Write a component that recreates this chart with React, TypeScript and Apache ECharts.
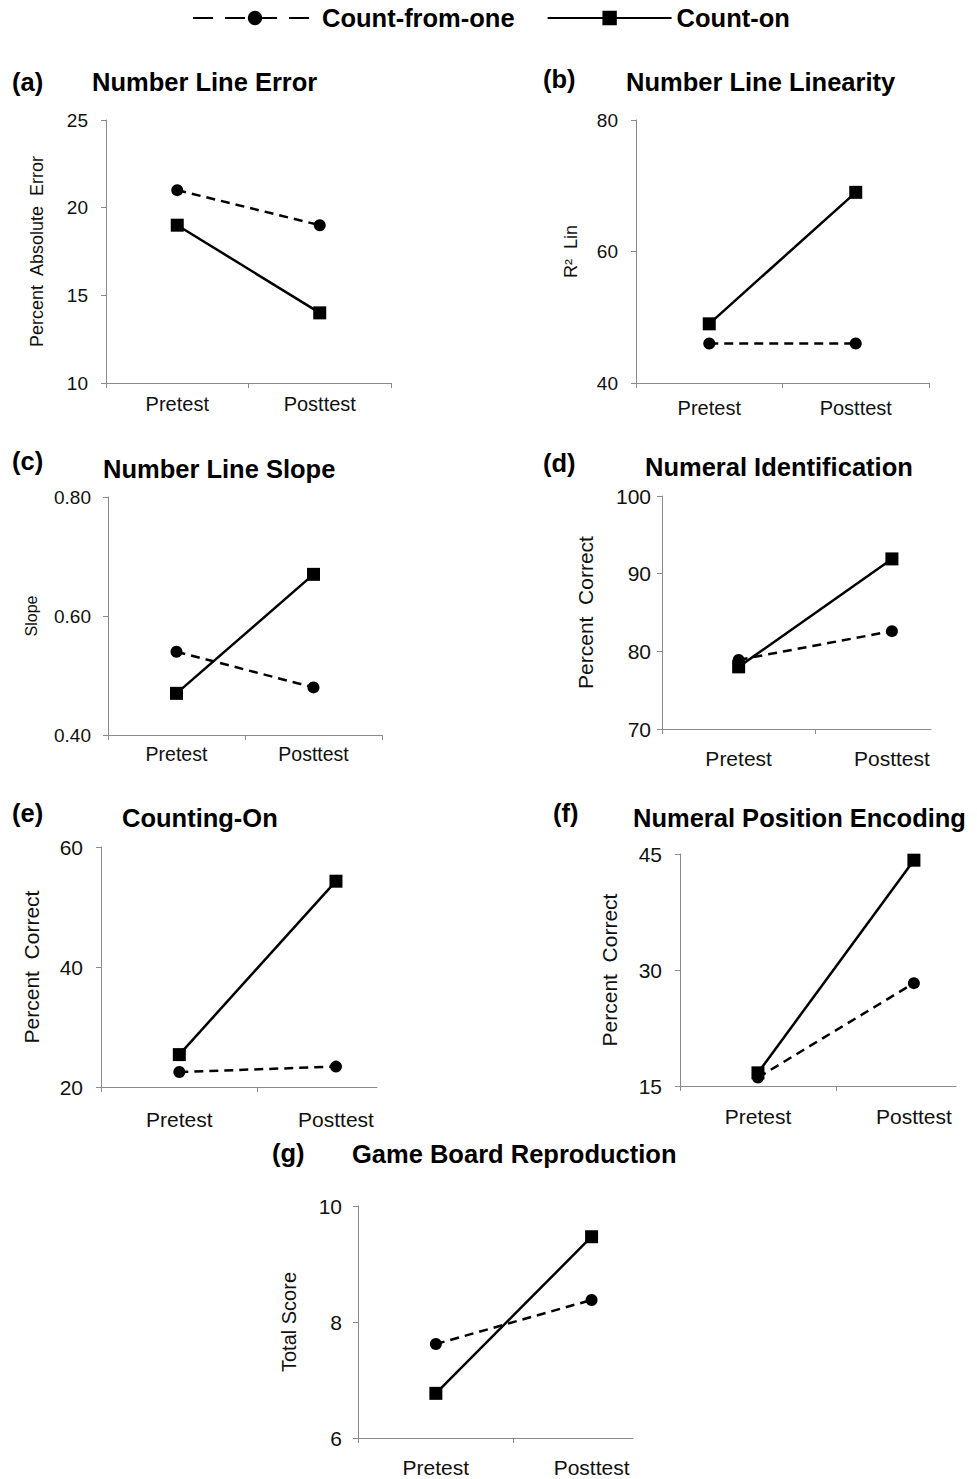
import React, { useEffect, useRef } from "react";
import * as echarts from "echarts";

// ---------- data ----------
const categories = ["Pretest", "Posttest"];
const seriesNames = ["Count-from-one", "Count-on"];

// (a) Number Line Error
const errorFromOne = [21, 19];
const errorCountOn = [19, 14];
const errorTicks = [10, 15, 20, 25];
// (b) Number Line Linearity
const linearityFromOne = [46, 46];
const linearityCountOn = [49, 69];
const linearityTicks = [40, 60, 80];
// (c) Number Line Slope
const slopeFromOne = [0.54, 0.48];
const slopeCountOn = [0.47, 0.67];
const slopeTicks = [0.4, 0.6, 0.8];
// (d) Numeral Identification
const identFromOne = [78.9, 82.6];
const identCountOn = [78, 91.9];
const identTicks = [70, 80, 90, 100];
// (e) Counting-On
const countingFromOne = [22.5, 23.4];
const countingCountOn = [25.4, 54.3];
const countingTicks = [20, 40, 60];
// (f) Numeral Position Encoding
const encodingFromOne = [16.1, 28.3];
const encodingCountOn = [16.7, 44.2];
const encodingTicks = [15, 30, 45];
// (g) Game Board Reproduction
const boardFromOne = [7.62, 8.38];
const boardCountOn = [6.77, 9.47];
const boardTicks = [6, 8, 10];

const panelLetters = ["(a)", "(b)", "(c)", "(d)", "(e)", "(f)", "(g)"];
const panelTitles = [
  "Number Line Error",
  "Number Line Linearity",
  "Number Line Slope",
  "Numeral Identification",
  "Counting-On",
  "Numeral Position Encoding",
  "Game Board Reproduction",
];
const yNames = [
  "Percent  Absolute  Error",
  "R\u00B2  Lin",
  "Slope",
  "Percent  Correct",
  "Percent  Correct",
  "Percent  Correct",
  "Total Score",
];

// ---------- layout / style ----------
const FONT = "Arial, 'Liberation Sans', Helvetica, sans-serif";
const AXIS_COLOR = "#8a8a8a";
const TITLE_FONT = 25.5;

type Panel = {
  fromOne: number[];
  countOn: number[];
  ticks: number[];
  grid: { left: number; top: number; width: number; height: number };
  xMax: number;
  xLabelMargin: number;
  xFont: number;
  yFont: number;
  yLabelMargin: number;
  nameFont: number;
  nameGap: number;
  decimals: number;
  letterPos: [number, number];
  titlePos: [number, number];
};

const panels: Panel[] = [
  {
    fromOne: errorFromOne, countOn: errorCountOn, ticks: errorTicks,
    grid: { left: 106, top: 120, width: 285, height: 263 }, xMax: 2,
    xLabelMargin: 11, xFont: 20, yFont: 19, yLabelMargin: 18, nameFont: 18, nameGap: 60, decimals: 0,
    letterPos: [12, 82], titlePos: [92, 82],
  },
  {
    fromOne: linearityFromOne, countOn: linearityCountOn, ticks: linearityTicks,
    grid: { left: 636, top: 120, width: 293, height: 263 }, xMax: 2,
    xLabelMargin: 15, xFont: 20, yFont: 19, yLabelMargin: 18, nameFont: 18, nameGap: 56, decimals: 0,
    letterPos: [543, 79], titlePos: [626, 82],
  },
  {
    fromOne: slopeFromOne, countOn: slopeCountOn, ticks: slopeTicks,
    grid: { left: 108, top: 497, width: 274, height: 238 }, xMax: 2,
    xLabelMargin: 9, xFont: 19.5, yFont: 19, yLabelMargin: 17, nameFont: 16, nameGap: 69, decimals: 2,
    letterPos: [12, 461], titlePos: [103, 469],
  },
  {
    fromOne: identFromOne, countOn: identCountOn, ticks: identTicks,
    grid: { left: 662, top: 496, width: 269, height: 233 }, xMax: 1.755,
    xLabelMargin: 19, xFont: 21, yFont: 21, yLabelMargin: 11, nameFont: 21, nameGap: 66, decimals: 0,
    letterPos: [543, 463], titlePos: [645, 467],
  },
  {
    fromOne: countingFromOne, countOn: countingCountOn, ticks: countingTicks,
    grid: { left: 101, top: 847, width: 276, height: 240 }, xMax: 1.762,
    xLabelMargin: 22, xFont: 21, yFont: 21, yLabelMargin: 18, nameFont: 21, nameGap: 59, decimals: 0,
    letterPos: [12, 813], titlePos: [122, 818],
  },
  {
    fromOne: encodingFromOne, countOn: encodingCountOn, ticks: encodingTicks,
    grid: { left: 680, top: 854, width: 276, height: 232 }, xMax: 1.77,
    xLabelMargin: 20, xFont: 21, yFont: 21, yLabelMargin: 18, nameFont: 21, nameGap: 60, decimals: 0,
    letterPos: [553, 813], titlePos: [633, 818],
  },
  {
    fromOne: boardFromOne, countOn: boardCountOn, ticks: boardTicks,
    grid: { left: 358, top: 1206, width: 275, height: 232 }, xMax: 1.766,
    xLabelMargin: 19, xFont: 21, yFont: 21, yLabelMargin: 16, nameFont: 20, nameGap: 59, decimals: 0,
    letterPos: [272, 1153], titlePos: [352, 1154],
  },
];

function buildOption() {
  const grids: any[] = [];
  const xAxes: any[] = [];
  const yAxes: any[] = [];
  const series: any[] = [];
  const graphics: any[] = [];

  panels.forEach((p, i) => {
    grids.push({ ...p.grid, outerBoundsMode: "none", containLabel: false });
    const tickVals = [0, 1, 2].filter((v) => v <= p.xMax + 1e-9);
    xAxes.push({
      type: "value",
      gridIndex: i,
      min: 0,
      max: p.xMax,
      interval: 1,
      axisLine: { show: true, lineStyle: { color: AXIS_COLOR, width: 1 } },
      axisTick: { show: true, length: 5, lineStyle: { color: AXIS_COLOR }, customValues: tickVals },
      axisLabel: {
        show: true,
        customValues: categories.map((_, k) => k + 0.5),
        formatter: (v: number) => categories[Math.floor(v)] ?? "",
        margin: p.xLabelMargin,
        fontSize: p.xFont,
        fontFamily: FONT,
        color: "#111",
      },
      splitLine: { show: false },
    });
    const ymin = p.ticks[0];
    const ymax = p.ticks[p.ticks.length - 1];
    yAxes.push({
      type: "value",
      gridIndex: i,
      min: ymin,
      max: ymax,
      interval: p.ticks[1] - p.ticks[0],
      axisLine: { show: true, lineStyle: { color: AXIS_COLOR, width: 1 } },
      axisTick: { show: true, length: 5, lineStyle: { color: AXIS_COLOR } },
      axisLabel: {
        margin: p.yLabelMargin,
        fontSize: p.yFont,
        fontFamily: FONT,
        color: "#111",
        formatter: (v: number) => v.toFixed(p.decimals),
      },
      splitLine: { show: false },
      name: yNames[i],
      nameLocation: "middle",
      nameGap: p.nameGap,
      nameTextStyle: { fontSize: p.nameFont, fontFamily: FONT, color: "#111" },
    });
    series.push({
      type: "line",
      name: seriesNames[0],
      xAxisIndex: i,
      yAxisIndex: i,
      data: categories.map((_, k) => [k + 0.5, p.fromOne[k]]),
      symbol: "circle",
      symbolSize: 12,
      itemStyle: { color: "#000" },
      lineStyle: { color: "#000", width: 2.5, type: [9, 6] },
      emphasis: { disabled: true },
      z: 2,
    });
    series.push({
      type: "line",
      name: seriesNames[1],
      xAxisIndex: i,
      yAxisIndex: i,
      data: categories.map((_, k) => [k + 0.5, p.countOn[k]]),
      symbol: "rect",
      symbolSize: 13,
      itemStyle: { color: "#000" },
      lineStyle: { color: "#000", width: 2.5, type: "solid" },
      emphasis: { disabled: true },
      z: 3,
    });
    graphics.push({
      type: "text",
      x: p.letterPos[0],
      y: p.letterPos[1],
      style: {
        text: panelLetters[i],
        fontSize: TITLE_FONT,
        fontWeight: "bold",
        fontFamily: FONT,
        fill: "#000",
        align: "left",
        verticalAlign: "middle",
      },
    });
    graphics.push({
      type: "text",
      x: p.titlePos[0],
      y: p.titlePos[1],
      style: {
        text: panelTitles[i],
        fontSize: TITLE_FONT,
        fontWeight: "bold",
        fontFamily: FONT,
        fill: "#000",
        align: "left",
        verticalAlign: "middle",
      },
    });
  });

  return {
    animation: false,
    backgroundColor: "#fff",
    legend: {
      top: 5,
      left: 192,
      padding: 0,
      itemWidth: 124,
      itemHeight: 18,
      itemGap: 32,
      textStyle: { fontSize: 25.5, fontWeight: "bold", fontFamily: FONT, color: "#000" },
      data: [
        { name: seriesNames[0], lineStyle: { type: [20, 12], width: 2 } },
        { name: seriesNames[1], lineStyle: { width: 2 } },
      ],
      selectedMode: false,
    },
    grid: grids,
    xAxis: xAxes,
    yAxis: yAxes,
    series,
    graphic: graphics,
  };
}

export default function App() {
  const ref = useRef<HTMLDivElement>(null);
  useEffect(() => {
    if (!ref.current) return;
    const chart = echarts.init(ref.current, undefined, { renderer: "svg" });
    chart.setOption(buildOption() as any);
    return () => chart.dispose();
  }, []);
  return (
    <div
      ref={ref}
      style={{ position: "absolute", left: 0, top: 0, width: 977, height: 1479, background: "#fff" }}
    />
  );
}
